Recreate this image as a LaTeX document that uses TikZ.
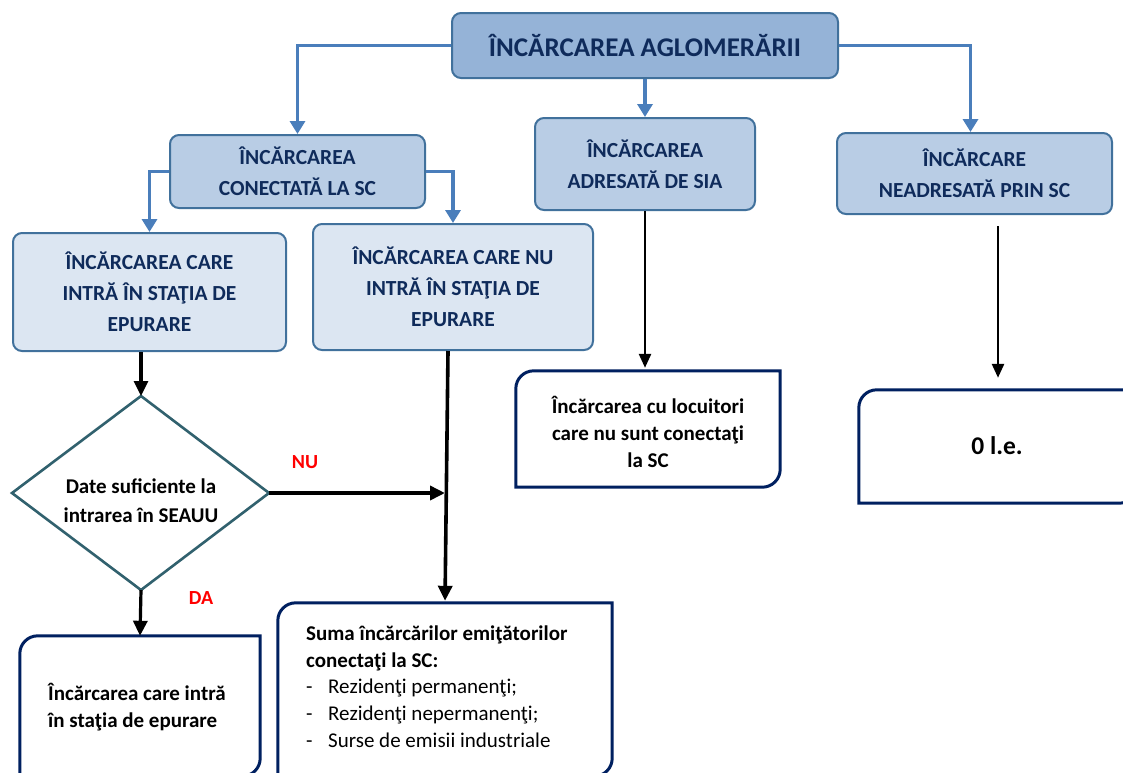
\documentclass[tikz,border=0pt]{standalone}
\usepackage{fontspec}
\setmainfont{Carlito}
\usetikzlibrary{arrows.meta,calc}

\definecolor{topfill}{HTML}{95B3D7}
\definecolor{midfill}{HTML}{B9CDE5}
\definecolor{lowfill}{HTML}{DCE6F2}
\definecolor{boxedge}{HTML}{41719C}
\definecolor{bluearrow}{HTML}{4A7EBB}
\definecolor{navytext}{HTML}{0F2B5B}
\definecolor{navyedge}{HTML}{002060}
\definecolor{diamondedge}{HTML}{31616E}
\definecolor{alertred}{HTML}{FF0000}

\tikzset{
  bluebox/.style={rectangle, rounded corners=9pt, draw=boxedge, line width=2pt,
    text=navytext, align=center, inner sep=0pt,
    font=\bfseries\fontsize{21.5}{31}\selectfont},
  outbox/.style={rectangle, draw=none, inner sep=0pt},
  snipline/.style={draw=navyedge, line width=3pt},
  boxtext/.style={inner sep=0pt, text=black, font=\bfseries\fontsize{21}{27}\selectfont},
  bluearr/.style={draw=bluearrow, line width=3.6pt,
    -{Triangle[length=13pt,width=15pt]}},
  blackarr/.style={draw=black, line width=3.6pt,
    -{Triangle[length=15pt,width=14pt]}},
  thinarr/.style={draw=black, line width=2.6pt,
    -{Triangle[length=14pt,width=12pt]}},
  answer/.style={text=alertred, font=\bfseries\fontsize{20}{22}\selectfont, inner sep=0pt}
}

% frame with rounded top-left and bottom-right corners
\newcommand\snipframe[1]{%
  \draw[snipline] (#1.south west) -- ($(#1.north west)+(0,18)$)
    .. controls ($(#1.north west)+(0,8)$) and ($(#1.north west)+(8,0)$) .. ($(#1.north west)+(18,0)$)
    -- (#1.north east) -- ($(#1.south east)+(0,-18)$)
    .. controls ($(#1.south east)+(0,-8)$) and ($(#1.south east)+(-8,0)$) .. ($(#1.south east)+(-18,0)$)
    -- cycle;}
\newcommand\listdash{\makebox[22pt][l]{-}}

\begin{document}
\begin{tikzpicture}[x=1pt,y=-1pt]
\useasboundingbox (0,0) rectangle (1123,772);
\fill[white] (0,0) rectangle (1123,772);

% top level
\node[bluebox, fill=topfill, minimum width=386pt, minimum height=65pt,
  font=\bfseries\fontsize{27}{30}\selectfont] (top) at (645,45.5) {ÎNCĂRCAREA AGLOMERĂRII};

% second level
\node[bluebox, fill=midfill, minimum width=255pt, minimum height=73pt] (conn) at (297.5,171.5)
  {ÎNCĂRCAREA\\CONECTATĂ LA SC};
\node[bluebox, fill=midfill, minimum width=220pt, minimum height=92pt] (sia) at (645,164)
  {ÎNCĂRCAREA\\ADRESATĂ DE SIA};
\node[bluebox, fill=midfill, minimum width=275pt, minimum height=81pt] (nesc) at (974.5,173.5)
  {ÎNCĂRCARE\\NEADRESATĂ PRIN SC};

% third level
\node[bluebox, fill=lowfill, minimum width=273pt, minimum height=118pt] (in) at (149.5,292)
  {ÎNCĂRCAREA CARE\\INTRĂ ÎN STAŢIA DE\\EPURARE};
\node[bluebox, fill=lowfill, minimum width=280pt, minimum height=126pt] (out) at (453,287)
  {ÎNCĂRCAREA CARE NU\\INTRĂ ÎN STAŢIA DE\\EPURARE};

% decision
\coordinate (dtop) at (141,396);
\coordinate (dright) at (269,493);
\coordinate (dbottom) at (141,590);
\coordinate (dleft) at (12,493);
\draw[draw=diamondedge, line width=2.6pt, line join=miter] (dtop) -- (dright) -- (dbottom) -- (dleft) -- cycle;
\node[boxtext, align=center, font=\bfseries\fontsize{21}{29}\selectfont] (dtext) at (141,501)
  {Date suficiente la\\intrarea în SEAUU};

% results
\node[outbox, minimum width=240pt, minimum height=140pt] (res) at (140,706) {};
\snipframe{res}
\node[boxtext, anchor=west, align=left] (restext) at (48,707) {Încărcarea care intră\\în staţia de epurare};

\node[outbox, minimum width=334pt, minimum height=173pt] (sum) at (445,689.5) {};
\snipframe{sum}
\node[boxtext, anchor=north west, align=left] (sumtext) at (306,626)
  {Suma încărcărilor emiţătorilor\\conectaţi la SC:};
\node[inner sep=0pt, anchor=north west, align=left, font=\fontsize{21}{27}\selectfont] (sumlist) at (306,679)
  {\listdash Rezidenţi permanenţi;\\\listdash Rezidenţi nepermanenţi;\\\listdash Surse de emisii industriale};

\node[outbox, minimum width=264pt, minimum height=116pt] (loc) at (648,429) {};
\snipframe{loc}
\node[boxtext, align=center] (loctext) at (648,432)
  {Încărcarea cu locuitori\\care nu sunt conectaţi\\la SC};

\node[outbox, minimum width=278pt, minimum height=113pt] (zero) at (998,446.5) {};
\snipframe{zero}
\node[boxtext, font=\bfseries\fontsize{25.5}{28}\selectfont] (zerotext) at (997,446) {0 l.e.};

% blue connectors
\draw[bluearr] (top.west) -| (conn.north);
\draw[bluearr] (top.east) -| ([xshift=-4pt]nesc.north);
\draw[bluearr] (top.south) -- (sia.north);
\draw[bluearr] (conn.west) -| (in.north);
\draw[bluearr] (conn.east) -| (out.north);

% black connectors
\coordinate (join) at (445,493);
\draw[blackarr, line width=3.2pt] (dtop |- in.south) -- (dtop);
\draw[blackarr] (dright) -- (join);
\draw[blackarr, shorten >=2pt] ([xshift=-5pt]out.south) -- (sum.north);
\draw[blackarr, line width=3.2pt] (dbottom) -- (res.north);
\draw[thinarr, shorten >=3pt] (sia.south) -- (sia.south |- loc.north);
\draw[thinarr, shorten <=11pt, shorten >=12pt] (nesc.south -| zero.north) -- (zero.north);

% branch labels
\node[answer] (nolabel) at (305,462) {NU};
\node[answer] (yeslabel) at (201,598) {DA};
\end{tikzpicture}
\end{document}
